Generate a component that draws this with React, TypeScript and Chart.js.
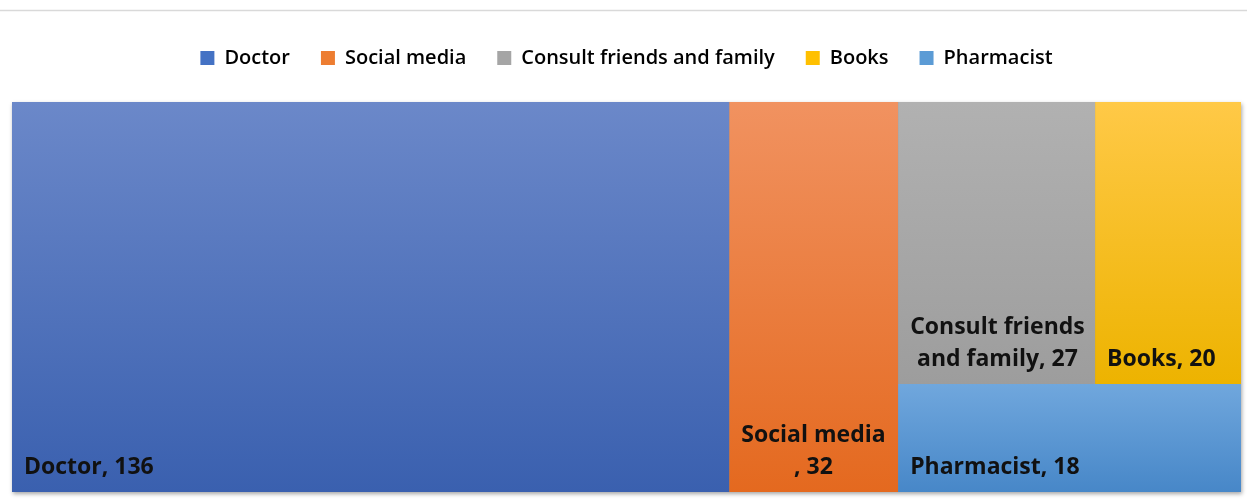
import React, { useEffect, useRef } from "react";
import { Chart, registerables } from "chart.js";

Chart.register(...registerables);

const categories = ["Doctor", "Social media", "Consult friends and family", "Books", "Pharmacist"];
const values = [136, 32, 27, 20, 18];
const topColors = ["#6b88c9", "#f19260", "#b1b1b1", "#ffc947", "#70a7dd"];
const bottomColors = ["#3a60af", "#e4691f", "#9d9d9d", "#edb300", "#4787c8"];
const legendColors = ["#4472c4", "#ed7d31", "#a5a5a5", "#ffc000", "#5b9bd5"];

// treemap nesting (indices into categories): h = side by side, v = stacked
type Node = number | { dir: "h" | "v"; kids: Node[] };
const tree: Node = { dir: "h", kids: [0, 1, { dir: "v", kids: [{ dir: "h", kids: [2, 3] }, 4] }] };

const total = values.reduce((a, b) => a + b, 0);

function sumNode(n: Node): number {
  return typeof n === "number" ? values[n] : n.kids.reduce((a, k) => a + sumNode(k), 0);
}

type R = { x0: number; x1: number; y0: number; y1: number };
function layout(n: Node, r: R, out: R[]) {
  if (typeof n === "number") {
    out[n] = r;
    return;
  }
  const s = sumNode(n);
  let acc = 0;
  for (const k of n.kids) {
    const v = sumNode(k);
    const f0 = acc / s;
    const f1 = (acc + v) / s;
    acc += v;
    if (n.dir === "h") {
      layout(k, { x0: r.x0 + (r.x1 - r.x0) * f0, x1: r.x0 + (r.x1 - r.x0) * f1, y0: r.y0, y1: r.y1 }, out);
    } else {
      layout(k, { x0: r.x0, x1: r.x1, y0: r.y0 + (r.y1 - r.y0) * f0, y1: r.y0 + (r.y1 - r.y0) * f1 }, out);
    }
  }
}

const rects: R[] = [];
layout(tree, { x0: 0, x1: total, y0: 0, y1: 1 }, rects);

const LABEL_FONT = "bold 23px 'Open Sans'";

function wrapLabel(ctx: CanvasRenderingContext2D, name: string, value: number, maxW: number): string[] {
  const tokens = name.split(" ");
  const lines: string[] = [];
  let cur = "";
  for (const t of tokens) {
    const cand = cur ? cur + " " + t : t;
    if (cur && ctx.measureText(cand).width > maxW) {
      lines.push(cur);
      cur = t;
    } else cur = cand;
  }
  const tail = ", " + value;
  if (ctx.measureText(cur + tail).width > maxW) {
    lines.push(cur);
    cur = tail;
  } else cur = cur + tail;
  lines.push(cur);
  return lines;
}

const treemapPlugin = {
  id: "treemapTiles",
  beforeDraw(chart: any) {
    const ctx = chart.ctx;
    ctx.save();
    ctx.strokeStyle = "#d9d9d9";
    ctx.lineWidth = 1.5;
    ctx.beginPath();
    ctx.moveTo(0, 10.5);
    ctx.lineTo(chart.width, 10.5);
    ctx.stroke();
    ctx.restore();
  },
  afterDatasetsDraw(chart: any) {
    const ctx: CanvasRenderingContext2D = chart.ctx;
    const xs = chart.scales.x;
    const ys = chart.scales.y;
    ctx.save();
    ctx.shadowColor = "rgba(0,0,0,0.35)";
    ctx.shadowBlur = 4;
    ctx.shadowOffsetX = 1;
    ctx.shadowOffsetY = 2;
    ctx.fillStyle = "#888";
    const L = xs.getPixelForValue(0), Rr = xs.getPixelForValue(total);
    const T = ys.getPixelForValue(0), B = ys.getPixelForValue(1);
    ctx.fillRect(L, T, Rr - L, B - T);
    ctx.restore();
    rects.forEach((r, i) => {
      const x0 = xs.getPixelForValue(r.x0);
      const x1 = xs.getPixelForValue(r.x1);
      const y0 = ys.getPixelForValue(r.y0);
      const y1 = ys.getPixelForValue(r.y1);
      const g = ctx.createLinearGradient(0, y0, 0, y1);
      g.addColorStop(0, topColors[i]);
      g.addColorStop(1, bottomColors[i]);
      ctx.fillStyle = g;
      ctx.fillRect(x0, y0, x1 - x0, y1 - y0);
    });
    ctx.save();
    ctx.font = LABEL_FONT;
    ctx.fillStyle = "#111111";
    ctx.textBaseline = "alphabetic";
    const lineH = 32;
    rects.forEach((r, i) => {
      const x0 = xs.getPixelForValue(r.x0);
      const x1 = xs.getPixelForValue(r.x1);
      const y1 = ys.getPixelForValue(r.y1);
      const lines = wrapLabel(ctx, categories[i], values[i], x1 - x0 - 16);
      const blockW = Math.max(...lines.map((l) => ctx.measureText(l).width));
      const left = x0 + 12;
      lines.forEach((l, j) => {
        const w = ctx.measureText(l).width;
        const base = y1 - 18 - (lines.length - 1 - j) * lineH;
        ctx.fillText(l, left + (blockW - w) / 2, base);
      });
    });
    ctx.restore();
  },
};

export default function App() {
  const ref = useRef<HTMLCanvasElement | null>(null);
  useEffect(() => {
    if (!ref.current) return;
    const chart = new Chart(ref.current, {
      type: "scatter",
      data: {
        datasets: categories.map((c, i) => ({
          label: c,
          data: [{ x: (rects[i].x0 + rects[i].x1) / 2, y: (rects[i].y0 + rects[i].y1) / 2 }],
          pointRadius: 0,
          backgroundColor: legendColors[i],
        })),
      },
      options: {
        responsive: false,
        animation: false,
        layout: { padding: { top: 17, left: 12, right: 6, bottom: 7 } },
        scales: {
          x: {
            type: "linear",
            min: 0,
            max: total,
            position: "top",
            display: true,
            grid: { display: false },
            border: { display: false },
            ticks: { display: false },
            afterFit: (s: any) => {
              s.height = 24;
            },
          },
          y: { type: "linear", min: 0, max: 1, reverse: true, display: false },
        },
        plugins: {
          tooltip: { enabled: false },
          legend: {
            position: "top",
            labels: {
              boxWidth: 14,
              boxHeight: 14,
              padding: 31,
              color: "#262626",
              font: { family: "'Open Sans'", size: 20, weight: "600" },
              generateLabels: () =>
                categories.map((c, i) => ({
                  text: c,
                  fillStyle: legendColors[i],
                  strokeStyle: legendColors[i],
                  lineWidth: 0,
                  hidden: false,
                  datasetIndex: i,
                })),
            },
          },
        },
      },
      plugins: [treemapPlugin],
    });
    return () => chart.destroy();
  }, []);
  return (
    <div style={{ position: "absolute", left: 0, top: 0, width: 1247, height: 499, background: "#ffffff" }}>
      <canvas ref={ref} width={1247} height={499} style={{ display: "block" }} />
    </div>
  );
}
